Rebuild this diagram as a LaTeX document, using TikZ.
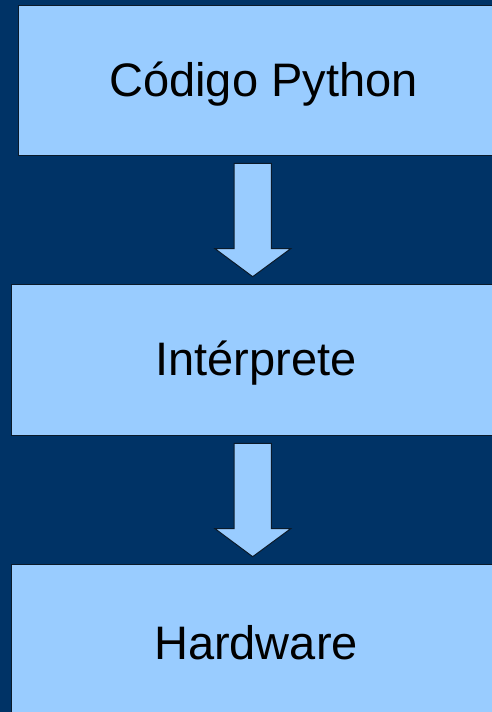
\documentclass[tikz,border=0pt]{standalone}
\usepackage{fontspec}
\setmainfont{Liberation Sans}
\definecolor{bgblue}{HTML}{003366}
\definecolor{boxblue}{HTML}{99CCFF}
\definecolor{edge}{HTML}{0A1A2A}
\begin{document}
\begin{tikzpicture}[x=1pt,y=-1pt,
  box/.style={draw=edge,line width=1pt,fill=boxblue,inner sep=0pt},
  boxtext/.style={font=\fontsize{47}{56}\selectfont,text=black,inner sep=0pt},
  blockarrow/.style={draw=edge,line width=1pt,fill=boxblue,line join=miter}]
\fill[bgblue] (0,0) rectangle (492,712);
\useasboundingbox (0,0) rectangle (492,712);
\node[box,minimum width=490pt,minimum height=150.5pt] (code) at (263.5,80.25) {};
\node[boxtext] (codetext) at (263.5,84) {Código Python};
\node[box,minimum width=490pt,minimum height=150.5pt] (interp) at (256,359.75) {};
\node[boxtext] (interptext) at (256,363.5) {Intérprete};
\node[box,minimum width=490pt,minimum height=236pt] (hw) at (256,682) {};
\node[boxtext] (hwtext) at (256,642.5) {Hardware};
% block arrows
\draw[blockarrow] (234,163.3) -- (271.3,163.3) -- (271.3,248.7) -- (290.7,248.7)
  -- (252.7,276.7) -- (215,248.7) -- (234,248.7) -- cycle;
\draw[blockarrow] (234,443.3) -- (271.3,443.3) -- (271.3,528.7) -- (290.7,528.7)
  -- (252.7,556.7) -- (215,528.7) -- (234,528.7) -- cycle;
\end{tikzpicture}
\end{document}
